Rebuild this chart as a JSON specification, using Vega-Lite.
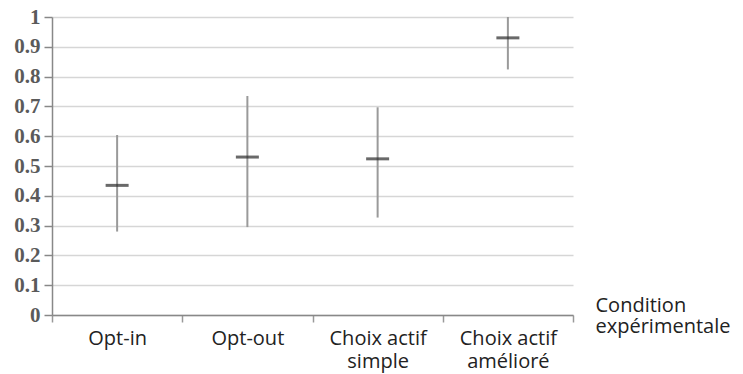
{
  "$schema": "https://vega.github.io/schema/vega-lite/v6.json",
  "autosize": {"type": "none"},
  "width": 521,
  "height": 298,
  "padding": {"left": 52, "top": 17, "right": 170, "bottom": 59},
  "background": "white",
  "config": {"view": {"stroke": null}},
  "data": {"values": [
    {"condition": "Opt-in", "mean": 0.435, "low": 0.28, "high": 0.604},
    {"condition": "Opt-out", "mean": 0.53, "low": 0.295, "high": 0.735},
    {"condition": "Choix actif simple", "mean": 0.524, "low": 0.327, "high": 0.697},
    {"condition": "Choix actif amélioré", "mean": 0.93, "low": 0.824, "high": 1.0}
  ]},
  "encoding": {
    "x": {
      "field": "condition", "type": "nominal", "sort": null,
      "scale": {"paddingInner": 0, "paddingOuter": 0},
      "axis": {
        "title": ["Condition", "expérimentale"],
        "titleX": 543, "titleY": -4, "titleAlign": "left", "titleAnchor": "start",
        "titleBaseline": "alphabetic", "titleFont": "Open Sans", "titleFontSize": 20,
        "titleFontWeight": "normal", "titleColor": "#222", "titleLineHeight": 21.5,
        "labelAngle": 0,
        "labelExpr": "datum.value == 'Choix actif simple' ? ['Choix actif', 'simple'] : datum.value == 'Choix actif amélioré' ? ['Choix actif', 'amélioré'] : datum.value",
        "encode": {"labels": {"update": {
          "align": {"signal": "indexof(datum.value, 'Choix') == 0 ? 'left' : 'center'"},
          "dx": {"signal": "indexof(datum.value, 'Choix') == 0 ? -49 : 0"}
        }}},
        "labelFont": "Open Sans", "labelFontSize": 20, "labelColor": "#222",
        "labelLineHeight": 23, "labelPadding": 6, "labelBaseline": "top",
        "tickBand": "extent", "tickSize": 7, "tickColor": "#999", "tickWidth": 1.5,
        "domainColor": "#888", "domainWidth": 1.5, "grid": false
      }
    }
  },
  "layer": [
    {
      "mark": {"type": "rule", "color": "#9a9a9a", "strokeWidth": 2},
      "encoding": {
        "y": {"field": "low", "type": "quantitative",
          "scale": {"domain": [0, 1], "nice": false},
          "axis": {
            "title": null,
            "values": [0, 0.1, 0.2, 0.3, 0.4, 0.5, 0.6, 0.7, 0.8, 0.9, 1],
            "format": ".1~f", "labelOverlap": false,
            "labelFont": "Liberation Serif", "labelFontSize": 21, "labelFontWeight": "bold",
            "labelColor": "#5a5a5a", "labelPadding": 4,
            "tickSize": 8, "tickColor": "#888", "tickWidth": 1.5,
            "domainColor": "#888", "domainWidth": 1.5,
            "grid": true, "gridColor": "#d6d6d6", "gridWidth": 1.6
          }
        },
        "y2": {"field": "high"}
      }
    },
    {
      "mark": {"type": "tick", "color": "#2a2a2a", "thickness": 3, "size": 23, "orient": "horizontal"},
      "encoding": {
        "y": {"field": "mean", "type": "quantitative",
          "axis": {
            "title": null,
            "values": [0, 0.1, 0.2, 0.3, 0.4, 0.5, 0.6, 0.7, 0.8, 0.9, 1],
            "format": ".1~f", "labelOverlap": false,
            "labelFont": "Liberation Serif", "labelFontSize": 21, "labelFontWeight": "bold",
            "labelColor": "#5a5a5a", "labelPadding": 4,
            "tickSize": 8, "tickColor": "#888", "tickWidth": 1.5,
            "domainColor": "#888", "domainWidth": 1.5,
            "grid": true, "gridColor": "#d6d6d6", "gridWidth": 1.6
          }
        }
      }
    }
  ]
}
